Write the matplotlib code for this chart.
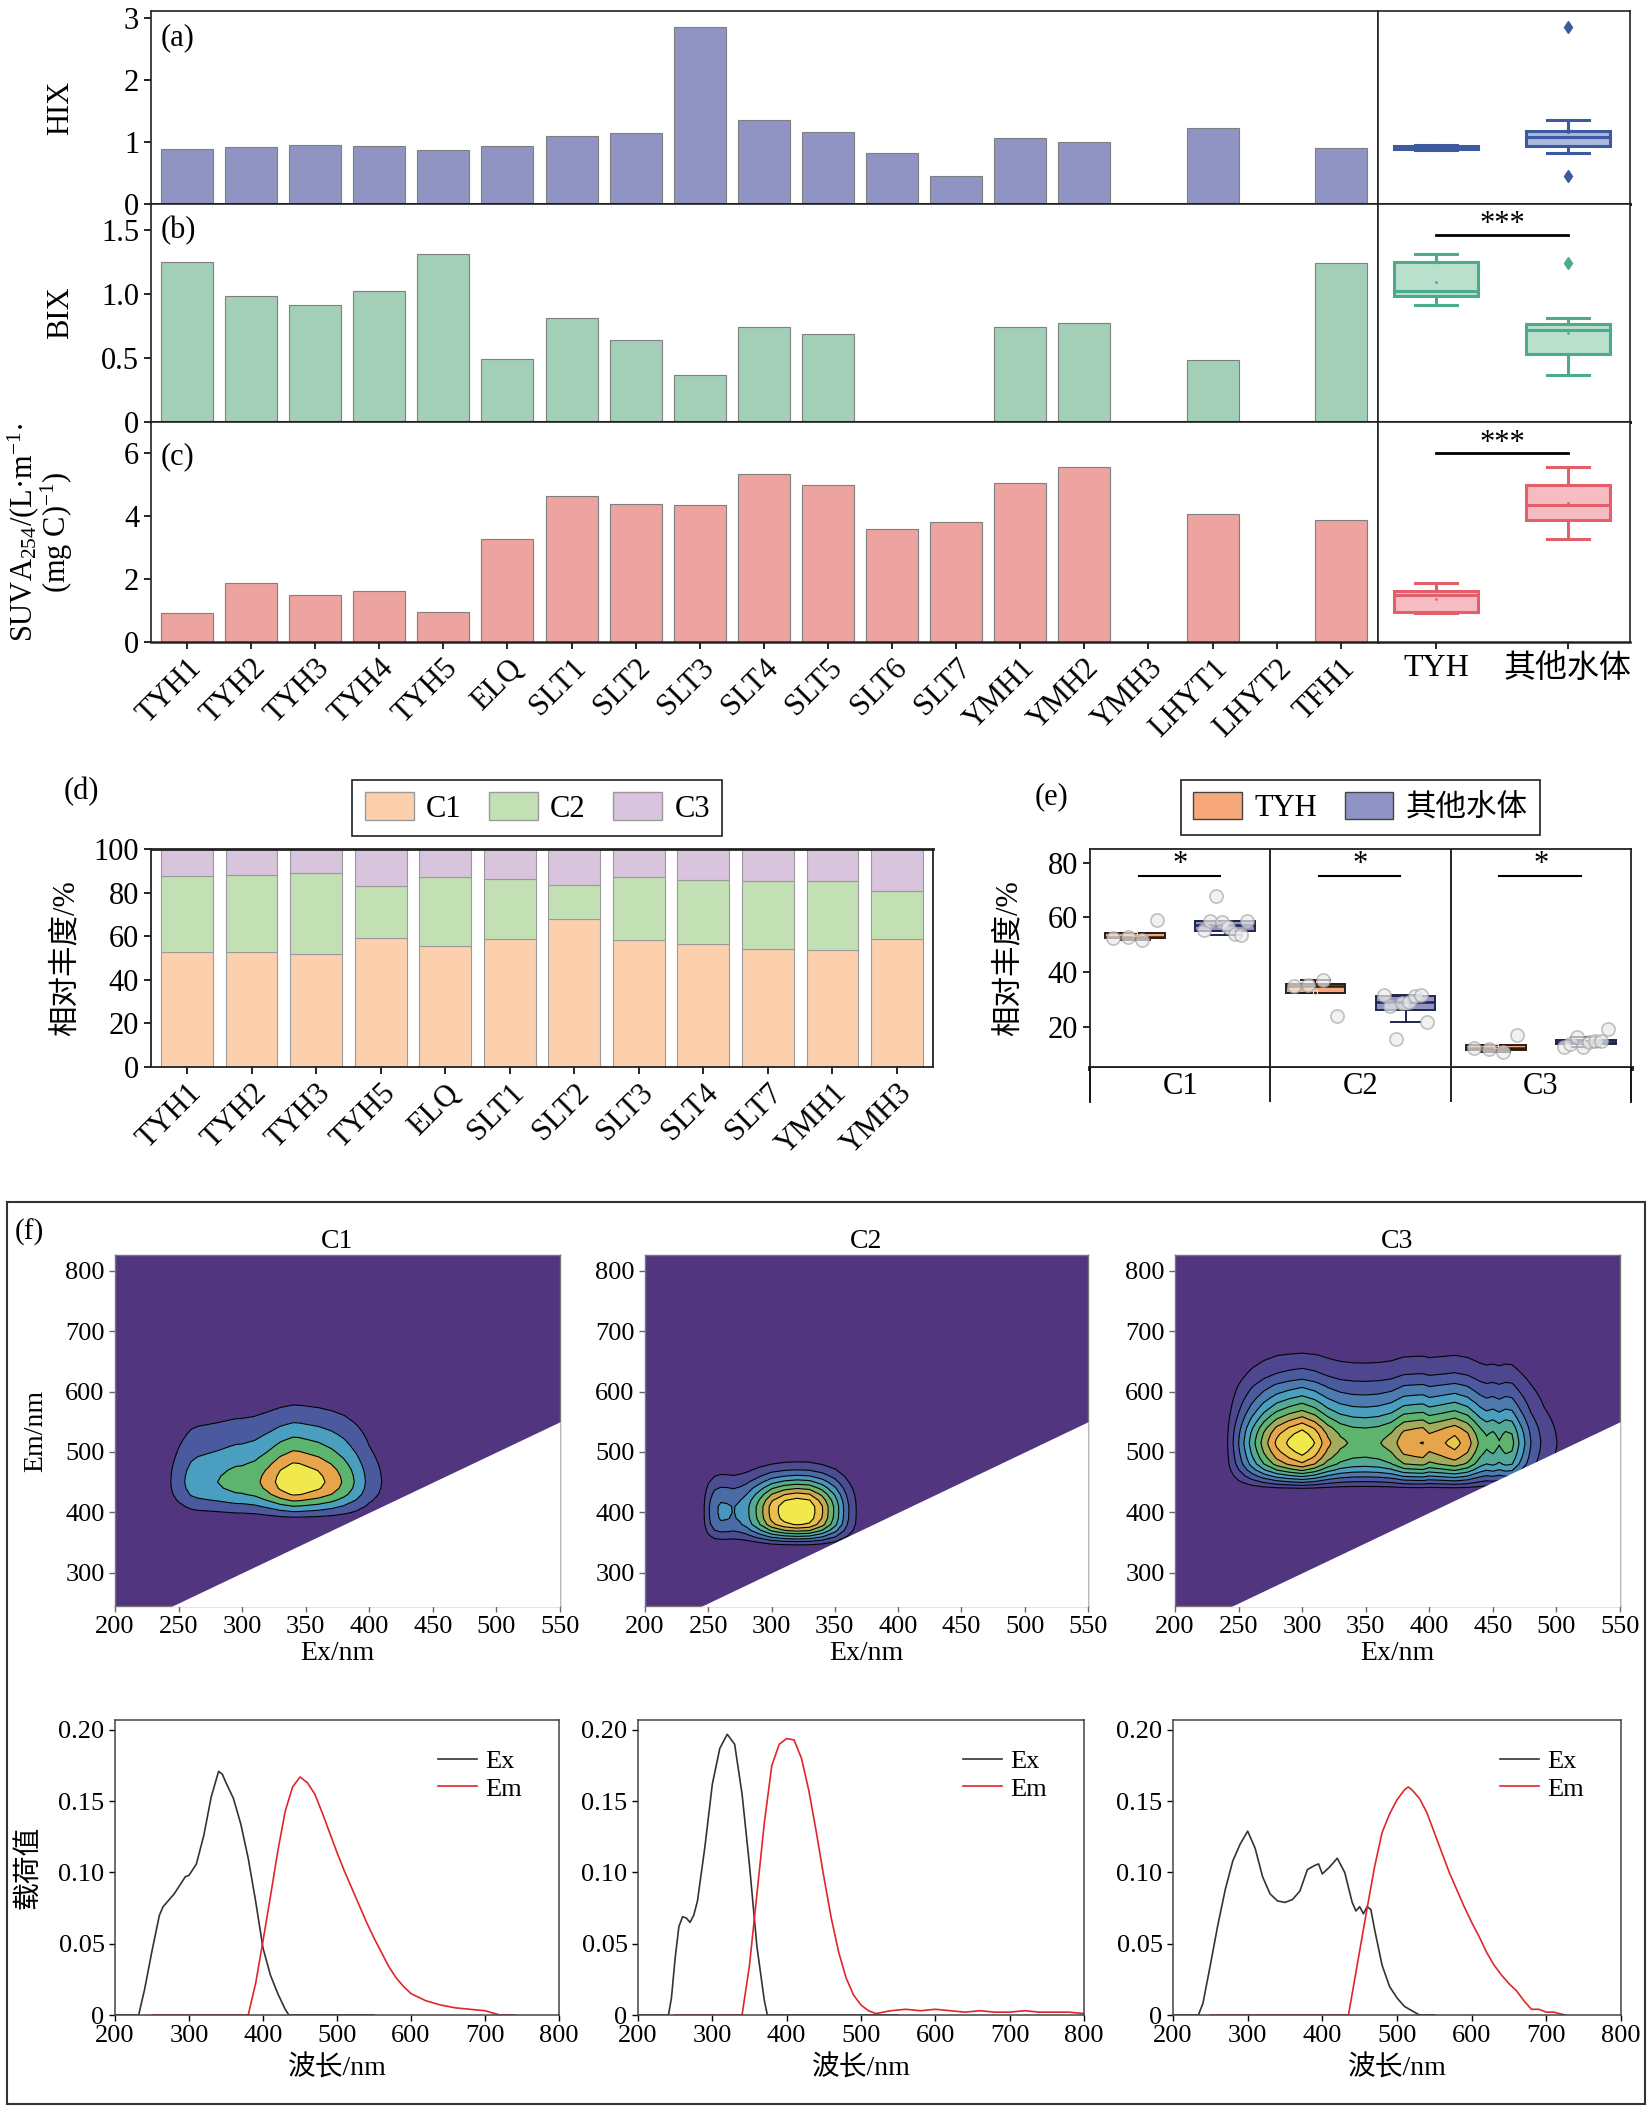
import numpy as np
import matplotlib
matplotlib.use('Agg')
import matplotlib.pyplot as plt
from matplotlib.colors import LinearSegmentedColormap
from matplotlib.patches import Rectangle, Patch
from matplotlib.lines import Line2D

plt.rcParams['font.family'] = ['Liberation Serif', 'Noto Sans CJK SC']
plt.rcParams['mathtext.fontset'] = 'custom'
plt.rcParams['mathtext.rm'] = 'Liberation Serif'
plt.rcParams['mathtext.it'] = 'Liberation Serif:italic'
plt.rcParams['axes.unicode_minus'] = False
plt.rcParams['font.size'] = 20

# ---------- (a)-(c) 水质指数 ----------
sites = ['TYH1', 'TYH2', 'TYH3', 'TYH4', 'TYH5', 'ELQ', 'SLT1', 'SLT2', 'SLT3',
         'SLT4', 'SLT5', 'SLT6', 'SLT7', 'YMH1', 'YMH2', 'YMH3', 'LHYT1', 'LHYT2', 'TFH1']
nan = np.nan
hix = [0.89, 0.92, 0.96, 0.93, 0.87, 0.94, 1.10, 1.14, 2.86, 1.35, 1.17, 0.83, 0.45,
       1.07, 1.01, nan, 1.23, nan, 0.91]
bix = [1.25, 0.98, 0.91, 1.02, 1.31, 0.49, 0.81, 0.64, 0.37, 0.74, 0.69, nan, nan,
       0.74, 0.77, nan, 0.48, nan, 1.24]
suva = [0.92, 1.89, 1.50, 1.63, 0.96, 3.28, 4.63, 4.40, 4.35, 5.33, 4.99, 3.61, 3.83,
        5.07, 5.57, nan, 4.08, nan, 3.89]
n_tyh = 5
groups = ['TYH', '其他水体']

# ---------- (d)/(e) 组分相对丰度 ----------
d_sites = ['TYH1', 'TYH2', 'TYH3', 'TYH5', 'ELQ', 'SLT1', 'SLT2', 'SLT3', 'SLT4',
           'SLT7', 'YMH1', 'YMH3']
d_c1 = [52.6, 52.9, 51.8, 59.0, 55.4, 58.6, 67.9, 58.4, 56.4, 54.1, 53.5, 58.7]
d_c2 = [35.0, 35.2, 37.2, 24.0, 31.8, 27.5, 15.6, 28.9, 29.2, 31.2, 31.8, 21.9]
d_c3 = [12.4, 11.9, 11.0, 17.0, 12.8, 13.9, 16.5, 12.7, 14.4, 14.7, 14.7, 19.4]
d_ntyh = 4

# ---------- (f) PARAFAC 载荷 ----------
c1_ex_wl = [200, 232, 240, 250, 260, 265, 270, 280, 290, 295, 300, 310, 320, 330, 340,
            345, 350, 360, 370, 380, 390, 400, 410, 420, 430, 435, 550]
c1_ex = [0, 0, 0.018, 0.045, 0.070, 0.076, 0.079, 0.085, 0.093, 0.097, 0.098, 0.106,
         0.126, 0.153, 0.171, 0.169, 0.163, 0.152, 0.134, 0.110, 0.080, 0.047, 0.028,
         0.015, 0.004, 0.0, 0.0]
c1_em_wl = [250, 380, 390, 400, 410, 420, 430, 440, 450, 460, 470, 480, 490, 500, 510,
            520, 530, 540, 550, 560, 570, 580, 590, 600, 620, 640, 660, 680, 700, 720, 740]
c1_em = [0, 0, 0.022, 0.052, 0.083, 0.115, 0.143, 0.160, 0.167, 0.163, 0.155, 0.142,
         0.128, 0.114, 0.101, 0.089, 0.077, 0.065, 0.054, 0.044, 0.034, 0.026, 0.020,
         0.015, 0.010, 0.007, 0.005, 0.004, 0.003, 0.0, 0.0]

c2_ex_wl = [200, 241, 245, 250, 255, 260, 265, 270, 275, 280, 290, 300, 310, 320, 330,
            340, 350, 360, 370, 374, 550]
c2_ex = [0, 0, 0.012, 0.040, 0.062, 0.069, 0.068, 0.065, 0.070, 0.080, 0.118, 0.162,
         0.187, 0.197, 0.190, 0.155, 0.105, 0.048, 0.010, 0.0, 0.0]
c2_em_wl = [250, 340, 350, 360, 370, 380, 390, 400, 410, 420, 430, 440, 450, 460, 470,
            480, 490, 500, 510, 520, 540, 560, 580, 600, 620, 640, 660, 680, 700, 720,
            740, 760, 780, 800]
c2_em = [0, 0, 0.035, 0.085, 0.135, 0.175, 0.190, 0.194, 0.193, 0.180, 0.157, 0.128,
         0.097, 0.068, 0.044, 0.026, 0.014, 0.007, 0.003, 0.001, 0.003, 0.004, 0.003,
         0.004, 0.003, 0.002, 0.003, 0.002, 0.002, 0.003, 0.002, 0.002, 0.002, 0.001]

c3_ex_wl = [200, 234, 240, 250, 260, 270, 280, 290, 300, 310, 320, 330, 340, 350, 360,
            370, 380, 390, 395, 400, 410, 420, 430, 440, 445, 450, 455, 460, 465, 470,
            480, 490, 500, 510, 520, 530, 550]
c3_ex = [0, 0, 0.008, 0.035, 0.063, 0.088, 0.108, 0.120, 0.129, 0.117, 0.097, 0.085,
         0.080, 0.079, 0.081, 0.087, 0.102, 0.105, 0.106, 0.099, 0.104, 0.110, 0.100,
         0.079, 0.073, 0.076, 0.071, 0.076, 0.074, 0.060, 0.035, 0.020, 0.012, 0.006,
         0.003, 0.0, 0.0]
c3_em_wl = [250, 435, 440, 450, 460, 470, 480, 490, 500, 510, 515, 520, 530, 540, 550,
            560, 570, 580, 590, 600, 610, 620, 630, 640, 650, 660, 670, 680, 690, 700,
            710, 725]
c3_em = [0, 0, 0.015, 0.045, 0.075, 0.104, 0.128, 0.141, 0.151, 0.158, 0.160, 0.158,
         0.152, 0.142, 0.128, 0.114, 0.100, 0.088, 0.076, 0.065, 0.055, 0.044, 0.035,
         0.028, 0.022, 0.017, 0.010, 0.004, 0.004, 0.002, 0.002, 0.0]

components = [('C1', c1_ex_wl, c1_ex, c1_em_wl, c1_em, 6),
              ('C2', c2_ex_wl, c2_ex, c2_em_wl, c2_em, 9),
              ('C3', c3_ex_wl, c3_ex, c3_em_wl, c3_em, 11)]

W, H = 1652, 2107
fig = plt.figure(figsize=(W / 100, H / 100), dpi=100)
FS = 22


def px_axes(x0, y0, x1, y1):
    # 像素坐标 -> figure 坐标
    return fig.add_axes([x0 / W, 1 - y1 / H, (x1 - x0) / W, (y1 - y0) / H])


# ===== (a)-(c) =====
rows = [
    ('(a)', hix, 'HIX', '#8f94c2', '#3d5a9e', '#a9b8dc', (0, 3.12), [0, 1, 2, 3],
     ['0', '1', '2', '3'], 11, 204, None, 0.86),
    ('(b)', bix, 'BIX', '#a3cfb9', '#4cab8b', '#b9dfcd', (0, 1.70), [0, 0.5, 1.0, 1.5],
     ['0', '0.5', '1.0', '1.5'], 204, 422, 1.46, 0.88),
    ('(c)', suva, 'SUVA$_{254}$/(L·m$^{-1}$·\n(mg C)$^{-1}$)', '#eda39f', '#e35f6b',
     '#f5bcc2', (0, 7.0), [0, 2, 4, 6], ['0', '2', '4', '6'], 422, 642, 6.0, 0.84),
]
x = np.arange(len(sites))
for i, (lab, vals, ylab, bcol, ecol, fcol, ylim, yt, ytl, y0, y1, sig, laby) in enumerate(rows):
    vals = np.array(vals, dtype=float)
    ax = px_axes(151, y0, 1378, y1)
    ax.bar(x, vals, width=0.81, color=bcol, edgecolor='#7f7f7f', linewidth=0.8)
    ax.set_xlim(-0.56, 18.58)
    ax.set_ylim(*ylim)
    ax.set_yticks(yt)
    ax.set_yticklabels(ytl, fontsize=FS)
    ax.set_ylabel(ylab, fontsize=FS, linespacing=0.9)
    ax.yaxis.set_label_coords(-0.062, 0.5)
    ax.text(0.008, laby, lab, transform=ax.transAxes, va='center', fontsize=FS)

    bx = px_axes(1378, y0, 1630, y1)
    data = [vals[:n_tyh], vals[n_tyh:]]
    data = [d[np.isfinite(d)] for d in data]
    bx.boxplot(data, positions=[0, 1], widths=0.64, patch_artist=True, capwidths=0.32,
               showmeans=True,
               boxprops=dict(facecolor=fcol, edgecolor=ecol, linewidth=2.2),
               medianprops=dict(color=ecol, linewidth=2.2),
               whiskerprops=dict(color=ecol, linewidth=2.2),
               capprops=dict(color=ecol, linewidth=2.2),
               meanprops=dict(marker='o', markersize=2, markerfacecolor=ecol,
                              markeredgecolor='none'),
               flierprops=dict(marker='d', markersize=6, markerfacecolor=ecol,
                               markeredgecolor=ecol))
    bx.set_xlim(-0.44, 1.47)
    bx.set_ylim(*ylim)
    bx.set_yticks([])
    if sig is not None:
        bx.plot([0, 1], [sig, sig], color='k', lw=2)
        bx.text(0.5, sig + (ylim[1] - ylim[0]) * 0.045, '***', ha='center', va='center',
                fontsize=FS)

    for a in (ax, bx):
        for s in a.spines.values():
            s.set_linewidth(1.2)
            s.set_color('#222222')
        a.tick_params(direction='out', length=5, width=1.2)
        if i < 2:
            a.spines['bottom'].set_linewidth(2.2)
            a.set_xticks([])
        else:
            a.spines['bottom'].set_linewidth(1.8)
    if i == 2:
        ax.set_xticks(x)
        ax.set_xticklabels(sites, rotation=45, ha='right', rotation_mode='anchor',
                           fontsize=FS)
        bx.set_xticks([0, 1])
        bx.set_xticklabels(groups, fontsize=FS + 1)

# ===== (d) =====
c1a = np.array(d_c1)
c2a = np.array(d_c2)
c3a = np.array(d_c3)
dcols = ['#fcd0ad', '#c3e0b5', '#d8c4dc']
ax = px_axes(151, 849, 933, 1067)
dx = np.arange(len(d_sites))
ax.bar(dx, c1a, 0.8, color=dcols[0], edgecolor='#9a9a9a', linewidth=0.8)
ax.bar(dx, c2a, 0.8, bottom=c1a, color=dcols[1], edgecolor='#9a9a9a', linewidth=0.8)
ax.bar(dx, c3a, 0.8, bottom=c1a + c2a, color=dcols[2], edgecolor='#9a9a9a', linewidth=0.8)
ax.set_xlim(-0.56, 11.56)
ax.set_ylim(0, 100)
ax.set_yticks(range(0, 101, 20))
ax.tick_params(labelsize=FS, direction='out', length=5, width=1.2)
ax.set_xticks(dx)
ax.set_xticklabels(d_sites, rotation=45, ha='right', rotation_mode='anchor', fontsize=FS)
ax.set_ylabel('相对丰度/%', fontsize=FS)
ax.yaxis.set_label_coords(-0.09, 0.5)
for s in ax.spines.values():
    s.set_linewidth(1.3)
    s.set_color('#222222')
ax.spines['top'].set_linewidth(2)
leg = ax.legend([Patch(facecolor=c, edgecolor='#9a9a9a') for c in dcols],
                ['C1', 'C2', 'C3'], ncol=3, loc='center', bbox_to_anchor=(0.494, 1.188),
                fancybox=False, edgecolor='k', handlelength=1.6, handleheight=1.0,
                handletextpad=0.4, columnspacing=0.9, fontsize=FS, borderpad=0.4)
leg.get_frame().set_linewidth(1.3)
fig.text(64 / W, 1 - 792 / H, '(d)', fontsize=FS, va='center')

# ===== (e) =====
ecols = ['#f6a87b', '#8f94c4']
eedge = ['#2b1d14', '#1f2550']
comp = [c1a, c2a, c3a]
ax = px_axes(1090, 849, 1631, 1068)
for k, vals in enumerate(comp):
    parts = [vals[:d_ntyh], vals[d_ntyh:]]
    for g, v in enumerate(parts):
        pos = k + 0.25 + 0.5 * g
        ax.boxplot([v], positions=[pos], widths=0.33, patch_artist=True, capwidths=0.16,
                   showfliers=False, showmeans=True,
                   boxprops=dict(facecolor=ecols[g], edgecolor=eedge[g], linewidth=1.4),
                   medianprops=dict(color=eedge[g], linewidth=1.8),
                   whiskerprops=dict(color=eedge[g], linewidth=1.4),
                   capprops=dict(color=eedge[g], linewidth=1.4),
                   meanprops=dict(marker='s', markersize=3, markerfacecolor='none',
                                  markeredgecolor='#f0e0d0', markeredgewidth=0.8))
        offs = np.linspace(-0.12, 0.12, len(v))
        ax.scatter(pos + offs, v, s=90, facecolor='#ececec', edgecolor='#a8a8a8',
                   linewidth=1.2, alpha=0.7, zorder=4)
    ax.plot([k + 0.27, k + 0.72], [75, 75], color='k', lw=1.5)
    ax.text(k + 0.5, 79.3, '*', ha='center', va='center', fontsize=FS)
ax.axvline(1, color='k', lw=1.2)
ax.axvline(2, color='k', lw=1.2)
ax.set_xlim(0, 3)
ax.set_ylim(5, 85)
ax.set_xticks([])
ax.set_yticks([20, 40, 60, 80])
ax.tick_params(labelsize=FS, direction='out', length=5, width=1.2)
ax.set_ylabel('相对丰度/%', fontsize=FS)
ax.yaxis.set_label_coords(-0.122, 0.5)
for s in ax.spines.values():
    s.set_linewidth(1.3)
    s.set_color('#222222')
ax.spines['bottom'].set_linewidth(3.5)
leg = ax.legend([Patch(facecolor=c, edgecolor='#444444') for c in ecols], groups, ncol=2,
                loc='center', bbox_to_anchor=(0.50, 1.19), fancybox=False, edgecolor='k',
                handlelength=1.6, handleheight=1.0, handletextpad=0.4, columnspacing=0.9,
                fontsize=FS, borderpad=0.4)
leg.get_frame().set_linewidth(1.3)
fig.text(1035 / W, 1 - 797 / H, '(e)', fontsize=FS, va='center')

ax2 = px_axes(1090, 1068, 1631, 1102)
ax2.set_xlim(0, 3)
ax2.set_ylim(0, 1)
ax2.set_xticks([])
ax2.set_yticks([])
ax2.spines['top'].set_visible(False)
ax2.spines['bottom'].set_visible(False)
for s in ('left', 'right'):
    ax2.spines[s].set_linewidth(1.3)
ax2.axvline(1, color='k', lw=1.2)
ax2.axvline(2, color='k', lw=1.2)
for k, name in enumerate(['C1', 'C2', 'C3']):
    ax2.text(k + 0.5, 0.45, name, ha='center', va='center', fontsize=FS)

# ===== (f) =====
fig.add_artist(Rectangle((7 / W, 1 - 2104 / H), (1645 - 7) / W, (2104 - 1202) / H,
                         transform=fig.transFigure, fill=False, edgecolor='#333333',
                         linewidth=1.5))
fig.text(15 / W, 1 - 1232 / H, '(f)', fontsize=21, va='center')

cmap = LinearSegmentedColormap.from_list(
    'eem', ['#51357f', '#4b5a9f', '#4a9ec0', '#5cb46e', '#e6a54b', '#f0e84c'])
cont_x = [(115, 560), (645, 1088), (1175, 1620)]
load_x = [(115, 559), (638, 1084), (1173, 1621)]

for j, (name, exw, ex, emw, em, nb) in enumerate(components):
    exw = np.array(exw, float)
    ex = np.array(ex)
    emw = np.array(emw, float)
    em = np.array(em)
    Z = np.outer(em, ex)
    levels = np.linspace(0, Z.max(), nb + 1)
    colors = [cmap(t) for t in np.linspace(0, 1, nb)]

    ax = px_axes(cont_x[j][0], 1255, cont_x[j][1], 1606)
    ax.set_facecolor(colors[0])
    ax.contourf(exw, emw, Z, levels=levels, colors=colors)
    ax.contour(exw, emw, Z, levels=levels[1:-1], colors='k', linewidths=0.8)
    ax.fill_between(exw, 0, exw, color='white', zorder=5, linewidth=0)
    ax.set_xlim(200, 550)
    ax.set_ylim(245, 826)
    ax.set_xticks(range(200, 551, 50))
    ax.set_yticks(range(300, 801, 100))
    ax.tick_params(labelsize=19, direction='out', length=4, width=1, color='#666666')
    for s in ax.spines.values():
        s.set_color('#777777')
        s.set_linewidth(1)
    ax.set_xlabel('Ex/nm', fontsize=20, labelpad=2)
    ax.set_title(name, fontsize=20, pad=5)
    if j == 0:
        ax.set_ylabel('Em/nm', fontsize=20)
        ax.yaxis.set_label_coords(-0.15, 0.5)

    la = px_axes(load_x[j][0], 1720, load_x[j][1], 2015)
    la.plot(exw, ex, color='#333333', lw=1.2, label='Ex')
    la.plot(emw, em, color='#e0262c', lw=1.2, label='Em')
    la.set_xlim(200, 800)
    la.set_ylim(0, 0.207)
    la.set_xticks(range(200, 801, 100))
    la.set_yticks([0, 0.05, 0.10, 0.15, 0.20])
    la.set_yticklabels(['0', '0.05', '0.10', '0.15', '0.20'])
    la.tick_params(labelsize=19, direction='out', length=4, width=1)
    for s in la.spines.values():
        s.set_color('#444444')
        s.set_linewidth(1.1)
    la.set_xlabel('波长/nm', fontsize=20, labelpad=6)
    la.legend(loc='upper right', bbox_to_anchor=(0.97, 0.98), frameon=False, fontsize=19,
              handlelength=1.5, handletextpad=0.3, labelspacing=0.15)
    if j == 0:
        la.set_ylabel('载荷值', fontsize=20)
        la.yaxis.set_label_coords(-0.165, 0.5)

fig.savefig('out.png', dpi=100)
